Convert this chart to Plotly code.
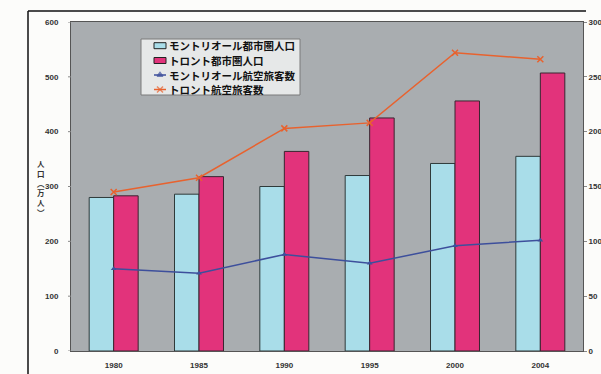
import plotly.graph_objects as go

years = ["1980", "1985", "1990", "1995", "2000", "2004"]
montreal_pop = [280, 286, 300, 320, 342, 355]
toronto_pop = [283, 318, 364, 425, 456, 507]
montreal_air = [75, 71, 88, 80, 96, 101]
toronto_air = [145, 158, 203, 208, 272, 266]

left_ticks = [0, 100, 200, 300, 400, 500, 600]
right_ticks = [0, 50, 100, 150, 200, 250, 300]

names = ["モントリオール都市圏人口", "トロント都市圏人口", "モントリオール航空旅客数", "トロント航空旅客数"]

BLUE_BAR = "#a9dde9"
PINK_BAR = "#e2337b"
BLUE_LINE = "#3d4f9c"
ORANGE_LINE = "#e8622e"

tick_font = dict(family="Liberation Sans, Arial, sans-serif", size=8, color="#333333", weight="bold")

fig = go.Figure()
fig.add_trace(go.Bar(x=years, y=montreal_pop, name=names[0],
                     marker=dict(color=BLUE_BAR, line=dict(color="#2f3a3a", width=1))))
fig.add_trace(go.Bar(x=years, y=toronto_pop, name=names[1],
                     marker=dict(color=PINK_BAR, line=dict(color="#3a2530", width=1))))
fig.add_trace(go.Scatter(x=years, y=montreal_air, name=names[2], yaxis="y2",
                         mode="lines+markers",
                         line=dict(color=BLUE_LINE, width=1.5),
                         marker=dict(symbol="triangle-up", size=5, color=BLUE_LINE)))
fig.add_trace(go.Scatter(x=years, y=toronto_air, name=names[3], yaxis="y2",
                         mode="lines+markers",
                         line=dict(color=ORANGE_LINE, width=1.5),
                         marker=dict(symbol="x-thin", size=6, color=ORANGE_LINE,
                                     line=dict(color=ORANGE_LINE, width=1.5))))

# plot area in pixels: x 71..583, y 22..351
L, R, T, B = 71, 583, 22, 351
W, H = R - L, B - T


def px(x):
    return (x - L) / W


def py(y):
    return (B - y) / H


fig.update_layout(
    width=601, height=374,
    margin=dict(l=L, r=601 - R, t=T, b=374 - B, autoexpand=False),
    paper_bgcolor="#fcfcfa",
    plot_bgcolor="#a9adb0",
    barmode="group", bargap=0.426, bargroupgap=0,
    showlegend=False,
    xaxis=dict(type="category", tickfont=tick_font, showline=True, linecolor="#555555",
               linewidth=1, mirror=True, ticks="outside", ticklen=6, tickcolor="rgba(0,0,0,0)",
               showgrid=False, range=[-0.5, 5.5], automargin=False),
    yaxis=dict(range=[0, 600], tickvals=left_ticks, tickfont=tick_font, showgrid=False,
               showline=True, linecolor="#555555", linewidth=1, mirror=True,
               ticks="outside", ticklen=10, tickcolor="rgba(0,0,0,0)", zeroline=False,
               automargin=False),
    yaxis2=dict(range=[0, 300], tickvals=right_ticks, tickfont=tick_font, overlaying="y",
                side="right", showgrid=False, ticks="outside", ticklen=3,
                tickcolor="#888888", zeroline=False, automargin=False),
    xaxis3=dict(overlaying="x", range=[0, 1], visible=False, anchor="y3", automargin=False),
    yaxis3=dict(overlaying="y", range=[0, 1], visible=False, anchor="x3", automargin=False),
)

# small outside tick marks on the left axis
for v in left_ticks:
    fig.add_shape(type="line", xref="paper", yref="y", x0=px(68), x1=px(71), y0=v, y1=v,
                  line=dict(color="#888888", width=1))

# y-axis title (vertical, stacked characters)
fig.add_annotation(xref="paper", yref="paper", x=px(41), y=py(188), xanchor="center", yanchor="middle",
                   text="人<br>口<br>︵<br>万<br>人<br>︶", showarrow=False,
                   font=dict(family="Noto Sans CJK JP", size=7.5, color="#333333", weight="bold"))

# outer frame
fig.add_shape(type="line", xref="paper", yref="paper", x0=px(28), x1=px(28), y0=py(11), y1=py(374),
              line=dict(color="#111111", width=1.5))
fig.add_shape(type="line", xref="paper", yref="paper", x0=px(28), x1=px(586), y0=py(11), y1=py(11),
              line=dict(color="#111111", width=1.5))

# legend box (drawn beneath the traces so the legend markers show on top)
fig.add_shape(type="rect", xref="x3", yref="y3", x0=px(141), x1=px(300), y0=py(39), y1=py(95),
              fillcolor="#e6e8e8", line=dict(color="#7a7a7a", width=1), layer="below")
rows = [45.7, 60.5, 75.0, 89.5]
# bar symbols
for yc, col in zip(rows[:2], [BLUE_BAR, PINK_BAR]):
    fig.add_shape(type="rect", xref="paper", yref="paper", x0=px(154), x1=px(166),
                  y0=py(yc - 3), y1=py(yc + 3), fillcolor=col, line=dict(color="#222222", width=1))
# line symbols
fig.add_trace(go.Scatter(x=[px(154), px(166)], y=[py(rows[2])] * 2, xaxis="x3", yaxis="y3",
                         mode="lines", showlegend=False, hoverinfo="skip",
                         line=dict(color=BLUE_LINE, width=1.5)))
fig.add_trace(go.Scatter(x=[px(154), px(166)], y=[py(rows[3])] * 2, xaxis="x3", yaxis="y3",
                         mode="lines", showlegend=False, hoverinfo="skip",
                         line=dict(color=ORANGE_LINE, width=1.5)))
fig.add_trace(go.Scatter(x=[px(160), px(160)], y=[py(rows[2]), py(rows[3])], xaxis="x3", yaxis="y3",
                         mode="markers", showlegend=False, hoverinfo="skip",
                         marker=dict(symbol=["triangle-up", "x-thin"], size=[5, 6],
                                     color=[BLUE_LINE, ORANGE_LINE],
                                     line=dict(color=[BLUE_LINE, ORANGE_LINE], width=1.5))))
for yc, name in zip(rows, names):
    fig.add_annotation(xref="paper", yref="paper", x=px(167), y=py(yc), xanchor="left", yanchor="middle",
                       text=name, showarrow=False,
                       font=dict(family="Noto Sans CJK JP", size=10.5, color="#111111", weight="bold"))

fig.write_html("out.html")
